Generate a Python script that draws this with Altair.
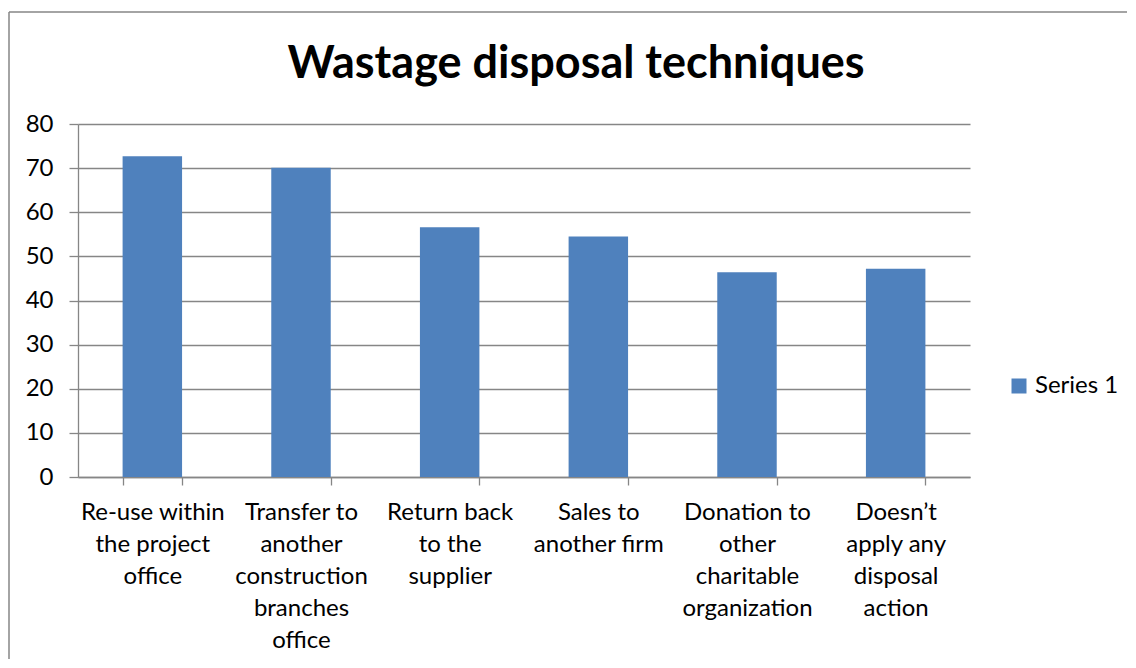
import altair as alt
import pandas as pd

categories = [
    "Re-use within\nthe project\noffice",
    "Transfer to\nanother\nconstruction\nbranches\noffice",
    "Return back\nto the\nsupplier",
    "Sales to\nanother firm",
    "Donation to\nother\ncharitable\norganization",
    "Doesn\u2019t\napply any\ndisposal\naction",
]
values = [72.7, 70.1, 56.6, 54.5, 46.4, 47.2]
series = ["Series 1"] * len(categories)
chart_title = ["Wastage disposal techniques"]

df = pd.DataFrame({"category": categories, "value": values, "series": series})

FONT = "Lato"
GRAY = "#868686"

bars = alt.Chart(df).mark_bar(color="#4F81BD").encode(
    x=alt.X(
        "category:N",
        sort=categories,
        title=None,
        scale=alt.Scale(paddingInner=0.6, paddingOuter=0.3),
        axis=alt.Axis(
            labelAngle=0,
            labelExpr="split(datum.label, '\\n')",
            labelFont=FONT,
            labelFontSize=24,
            labelColor="#000000",
            labelLineHeight=32,
            labelPadding=15,
            labelLimit=200,
            tickBand="extent",
            tickSize=8,
            tickColor=GRAY,
            tickWidth=1.3,
            domainColor=GRAY,
            domainWidth=1.3,
            grid=False,
        ),
    ),
    y=alt.Y(
        "value:Q",
        title=None,
        scale=alt.Scale(domain=[0, 80]),
        axis=alt.Axis(
            values=[0, 10, 20, 30, 40, 50, 60, 70, 80],
            labelFont=FONT,
            labelFontSize=24,
            labelColor="#000000",
            labelPadding=16,
            tickSize=9,
            tickColor=GRAY,
            tickWidth=1.3,
            domainColor=GRAY,
            domainWidth=1.3,
            gridColor=GRAY,
            gridWidth=1.3,
        ),
    ),
    color=alt.Color(
        "series:N",
        scale=alt.Scale(range=["#4F81BD"]),
        legend=alt.Legend(
            title=None,
            orient="none",
            legendX=929,
            legendY=250,
            symbolType="square",
            symbolSize=225,
            symbolStrokeWidth=0,
            labelFont=FONT,
            labelFontSize=24,
            labelColor="#000000",
            labelOffset=4,
            padding=0,
        ),
    ),
)

frame_df = pd.DataFrame({"a": [0]})
left_line = alt.Chart(frame_df).mark_rule(color=GRAY, strokeWidth=1.5).encode(
    x=alt.value(-69), y=alt.value(-112), y2=alt.value(535)
)
top_line = alt.Chart(frame_df).mark_rule(color=GRAY, strokeWidth=1.5).encode(
    x=alt.value(-69), x2=alt.value(1049), y=alt.value(-112)
)
title_df = pd.DataFrame({"t": chart_title})
title_text = alt.Chart(title_df).mark_text(
    font=FONT, fontSize=45, fontWeight="bold", color="#000000",
    align="center", baseline="alphabetic",
).encode(text="t:N", x=alt.value(498), y=alt.value(-46))

chart = (
    alt.layer(left_line, top_line, title_text, bars)
    .properties(
        width=892,
        height=353,
        padding={"left": 0, "top": 3, "right": 0, "bottom": 0},
    )
    .configure_view(stroke=None)
)

chart.save("out.html", embed_options={"renderer": "svg", "actions": False})
